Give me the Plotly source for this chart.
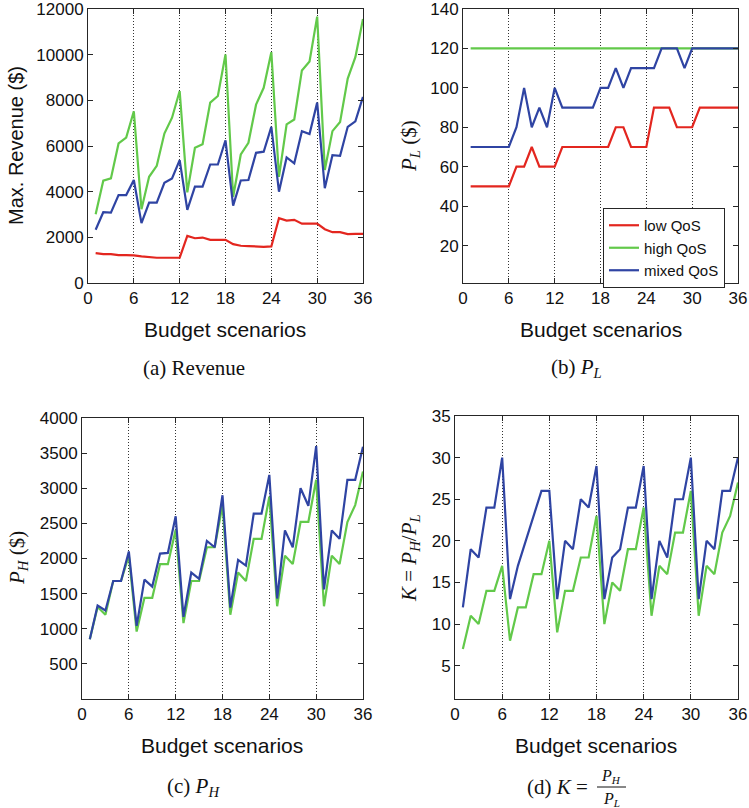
import plotly.graph_objects as go

# ---------------- data ----------------
scenarios = list(range(1, 37))
x_ticks = [0, 6, 12, 18, 24, 30, 36]

rev_low = [1310, 1265, 1265, 1220, 1220, 1210, 1165, 1120, 1105, 1105, 1105, 1105,
           2065, 1960, 1990, 1890, 1890, 1890, 1700, 1630, 1615, 1585, 1585, 1600,
           2840, 2735, 2765, 2600, 2600, 2600, 2355, 2225, 2225, 2140, 2150, 2150]
rev_high = [3010, 4480, 4580, 6110, 6370, 7520, 3230, 4650, 5130, 6545, 7240, 8410,
            3970, 5920, 6080, 7900, 8190, 10010, 3780, 5630, 6140, 7810, 8550, 10110,
            4650, 6950, 7160, 9310, 9700, 11665, 4950, 6650, 7050, 8950, 9890, 11560]
rev_mixed = [2330, 3100, 3080, 3850, 3850, 4510, 2620, 3520, 3520, 4390, 4580, 5380,
             3200, 4220, 4220, 5190, 5190, 6250, 3390, 4490, 4510, 5700, 5750, 6840,
             4000, 5500, 5240, 6650, 6520, 7900, 4150, 5600, 5570, 6840, 7080, 8150]

pl_low = [50, 50, 50, 50, 50, 50, 60, 60, 70, 60, 60, 60,
          70, 70, 70, 70, 70, 70, 70, 80, 80, 70, 70, 70,
          90, 90, 90, 80, 80, 80, 90, 90, 90, 90, 90, 90]
pl_high = [120, 120, 120, 120, 120, 120, 120, 120, 120, 120, 120, 120,
           120, 120, 120, 120, 120, 120, 120, 120, 120, 120, 120, 120,
           120, 120, 120, 120, 120, 120, 120, 120, 120, 120, 120, 120]
pl_mixed = [70, 70, 70, 70, 70, 70, 80, 100, 80, 90, 80, 100,
            90, 90, 90, 90, 90, 100, 100, 110, 100, 110, 110, 110,
            110, 120, 120, 120, 110, 120, 120, 120, 120, 120, 120, 120]

ph_high = [850, 1310, 1200, 1680, 1680, 2040, 960, 1440, 1440, 1920, 1920, 2410,
           1080, 1680, 1680, 2160, 2160, 2760, 1200, 1800, 1680, 2280, 2280, 2880,
           1320, 2040, 1920, 2520, 2520, 3120, 1320, 2040, 1920, 2520, 2760, 3240]
ph_mixed = [850, 1330, 1260, 1680, 1680, 2100, 1040, 1700, 1600, 2070, 2080, 2600,
            1170, 1800, 1710, 2250, 2160, 2900, 1300, 1980, 1900, 2640, 2640, 3190,
            1430, 2400, 2160, 3000, 2750, 3600, 1560, 2400, 2280, 3120, 3120, 3590]

k_high = [7, 11, 10, 14, 14, 17, 8, 12, 12, 16, 16, 20,
          9, 14, 14, 18, 18, 23, 10, 15, 14, 19, 19, 24,
          11, 17, 16, 21, 21, 26, 11, 17, 16, 21, 23, 27]
k_mixed = [12, 19, 18, 24, 24, 30, 13, 17, 20, 23, 26, 26,
           13, 20, 19, 25, 24, 29, 13, 18, 19, 24, 24, 29,
           13, 20, 18, 25, 25, 30, 13, 20, 19, 26, 26, 30]

series_names = ["low QoS", "high QoS", "mixed QoS"]

rev_ticks = [0, 2000, 4000, 6000, 8000, 10000, 12000]
pl_ticks = [20, 40, 60, 80, 100, 120, 140]
ph_ticks = [500, 1000, 1500, 2000, 2500, 3000, 3500, 4000]
k_ticks = [5, 10, 15, 20, 25, 30, 35]

# ---------------- style ----------------
W, H = 749, 808
RED, GREEN, BLUE = "#e3261f", "#62c94a", "#2f44a3"
SANS = "Liberation Sans, Arial, sans-serif"
SERIF = "Liberation Serif, Times New Roman, serif"
AXC = "#262626"


def px(v):
    return v / W


def py(v):
    return 1 - v / H


fig = go.Figure()


def add(xs, ys, color, ax, name=None, legend=False):
    fig.add_trace(go.Scatter(x=xs, y=ys, mode="lines", name=name,
                             line=dict(color=color, width=2.2),
                             xaxis="x" + ax, yaxis="y" + ax,
                             showlegend=legend, hoverinfo="skip"))


add(scenarios, rev_low, RED, "")
add(scenarios, rev_high, GREEN, "")
add(scenarios, rev_mixed, BLUE, "")
add(scenarios, pl_low, RED, "2", series_names[0], True)
add(scenarios, pl_high, GREEN, "2", series_names[1], True)
add(scenarios, pl_mixed, BLUE, "2", series_names[2], True)
add(scenarios, ph_high, GREEN, "3")
add(scenarios, ph_mixed, BLUE, "3")
add(scenarios, k_high, GREEN, "4")
add(scenarios, k_mixed, BLUE, "4")

TICKFONT = dict(family=SANS, size=17, color="#111")


def xax(dom, anchor):
    return dict(domain=dom, anchor=anchor, range=[0, 36], tickvals=x_ticks,
                ticktext=[str(v) for v in x_ticks],
                ticks="inside", ticklen=5, tickcolor=AXC, showline=True,
                linecolor=AXC, linewidth=1, mirror="ticks",
                showgrid=True, gridcolor="#333333", griddash="1px,2px", gridwidth=1,
                zeroline=False, tickfont=TICKFONT, fixedrange=True,
                automargin=False, ticklabeloverflow="allow")


def yax(dom, anchor, rng, tv):
    return dict(domain=dom, anchor=anchor, range=rng, tickvals=tv,
                ticktext=[str(v) for v in tv],
                ticks="inside", ticklen=5, tickcolor=AXC, showline=True,
                linecolor=AXC, linewidth=1, mirror="ticks", showgrid=False,
                zeroline=False, tickfont=TICKFONT, fixedrange=True,
                automargin=False, ticklabeloverflow="allow")


yA = [py(283), py(9)]
yC = [py(699), py(418)]
yD = [py(699), py(416)]

fig.update_layout(
    width=W, height=H, margin=dict(l=0, r=0, t=0, b=0, pad=0, autoexpand=False),
    paper_bgcolor="white", plot_bgcolor="white",
    xaxis=xax([px(88), px(363)], "y"),
    yaxis=yax(yA, "x", [0, 12000], rev_ticks),
    xaxis2=xax([px(463), px(738)], "y2"),
    yaxis2=yax(yA, "x2", [1, 140], pl_ticks),
    xaxis3=xax([px(82), px(363)], "y3"),
    yaxis3=yax(yC, "x3", [0, 4000], ph_ticks),
    xaxis4=xax([px(455), px(738)], "y4"),
    yaxis4=yax(yD, "x4", [1, 35], k_ticks),
    legend=dict(x=px(603), y=py(208), xanchor="left", yanchor="top",
                bgcolor="white", bordercolor=AXC, borderwidth=1,
                font=dict(family=SANS, size=15, color="#111"),
                tracegroupgap=0, itemwidth=30),
)

ann = []


def text(x, y, s, size=21, family=SANS, angle=0, xanchor="center"):
    ann.append(dict(x=px(x), y=py(y), xref="paper", yref="paper", text=s,
                    showarrow=False, textangle=angle, xanchor=xanchor,
                    yanchor="middle", font=dict(family=family, size=size, color="#111")))


# x titles
text(225, 330, "Budget scenarios", size=21)
text(601, 330, "Budget scenarios", size=21)
text(222, 745, "Budget scenarios", size=21)
text(596, 745, "Budget scenarios", size=21)
# y titles
text(16, 146, "Max. Revenue ($)", size=20, angle=-90)
text(410, 146, "<i>P</i><sub><i>L</i></sub> ($)", size=21, family=SERIF, angle=-90)
text(18, 558, "<i>P</i><sub><i>H</i></sub> ($)", size=21, family=SERIF, angle=-90)
text(410, 558, "<i>K</i> = <i>P</i><sub><i>H</i></sub>/<i>P</i><sub><i>L</i></sub>",
     size=21, family=SERIF, angle=-90)
# captions
text(194, 368, "(a) Revenue", size=21, family=SERIF)
text(576, 368, "(b) <i>P</i><sub><i>L</i></sub>", size=21, family=SERIF)
text(193, 787, "(c) <i>P</i><sub><i>H</i></sub>", size=21, family=SERIF)
text(590, 787, "(d) <i>K</i> =", size=21, family=SERIF, xanchor="right")
text(611, 776, "<i>P</i><sub><i>H</i></sub>", size=16, family=SERIF)
text(611, 799, "<i>P</i><sub><i>L</i></sub>", size=16, family=SERIF)
fig.update_layout(annotations=ann)
fig.add_shape(type="line", xref="paper", yref="paper",
              x0=px(597), x1=px(626), y0=py(787), y1=py(787),
              line=dict(color="#111", width=1))

fig.write_html("out.html", config={"displayModeBar": False},
               post_script="document.body.style.margin='0';document.body.style.padding='0';")
